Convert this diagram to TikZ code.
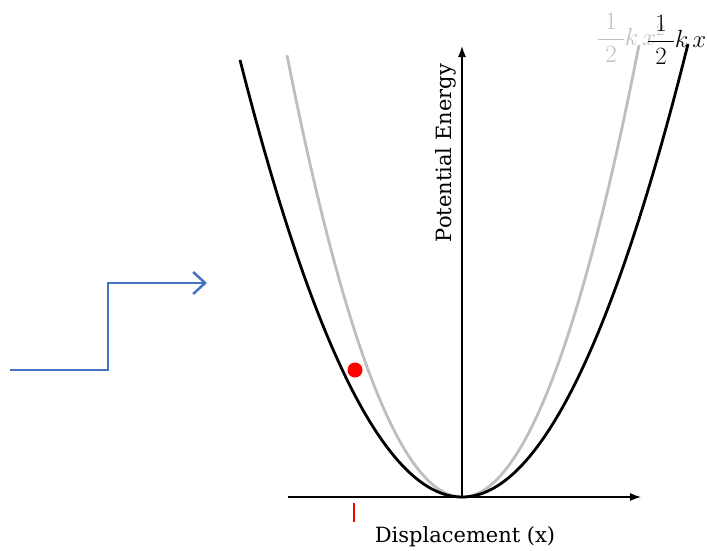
\documentclass[tikz,border=0pt]{standalone}
\usepackage{fontspec}
\setmainfont{DejaVu Serif}
\usetikzlibrary{arrows.meta}
\definecolor{curvegray}{RGB}{190,190,190}
\definecolor{stepblue}{RGB}{68,114,196}

\begin{document}
\begin{tikzpicture}[x=1pt,y=-1pt,font=\fontsize{21}{25}\selectfont,
  axis/.style={line width=1.3pt,-{Latex[length=11pt,width=8pt]}},
  well/.style={line width=2.8pt,smooth,samples=150},
  energy/.style={anchor=west,inner sep=0pt,font=\fontsize{23}{27}\selectfont}]
  \useasboundingbox (0,0) rectangle (707,550);
  \coordinate (O) at (462,497);
  \coordinate (xl) at (288,497);
  \coordinate (xr) at (641,497);
  \coordinate (yt) at (462,46);
  % the two wells, stiff one in gray
  \draw[well,curvegray] plot[domain=-175:177] ({462+\x},{497-(0.1201*\x)^2});
  \draw[well,black] plot[domain=-222:226] ({462+\x},{497-(0.09418*\x)^2});
  % axes
  \draw[axis] (xl) -- (xr);
  \draw[axis] (O) -- (yt);
  \node[rotate=90] (pe) at (446,153) {Potential Energy};
  \node (dx) at (465,537) {Displacement (x)};
  \node[energy,text=curvegray] (eg) at (597,38) {$\displaystyle\frac{\;1\;}{\;2\;}k\,x^2$};
  \node[energy] (eb) at (647,40) {$\displaystyle\frac{\;1\;}{\;2\;}k\,x^2$};
  % mass and its displacement
  \fill[red] (355,370) circle (7.5) coordinate (m);
  \coordinate (t0) at (354,503);
  \coordinate (t1) at (354,522);
  \draw[red,line width=2pt] (t0) -- (t1);
  % step
  \coordinate (s0) at (10,370);
  \coordinate (s1) at (207,283);
  \draw[stepblue,line width=2.5pt,-{Straight Barb[length=12pt,width=22pt]}]
    (s0) -- (108,370) |- (s1);
\end{tikzpicture}
\end{document}
